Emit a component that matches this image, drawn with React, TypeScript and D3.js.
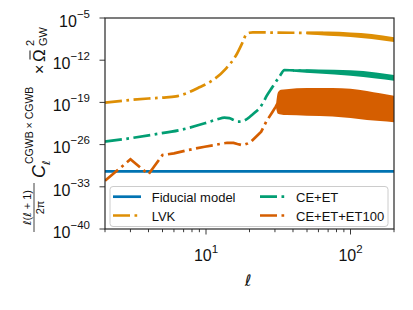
import React from "react";
import * as d3 from "d3";

const W = 413;
const H = 310;

// axis ticks
const xMajorTicks = [10, 100];
const xMinorTicks = [2, 3, 4, 5, 6, 7, 8, 9, 20, 30, 40, 50, 60, 70, 80, 90, 200];
const yTickExps = [-40, -33, -26, -19, -12, -5];

// series: multipole ell and log10 of the spectrum
const fiducialEll = [2, 200];
const fiducialLog = [-30.45, -30.45];

const lvkEll = [2, 3, 4, 5, 6.2, 7.3, 9, 11.2, 13.8, 16.2, 18, 19, 20, 21.1, 30, 60, 100, 140, 200];
const lvkLog = [-19.05, -18.6, -18.35, -18.2, -18.0, -17.5, -16.5, -15.28, -13.35, -11.14, -8.93, -7.7, -7.45, -7.38, -7.42, -7.5, -7.75, -8.05, -8.6];
const lvkBandEll = [50, 70, 100, 140, 200];
const lvkBandHi = [-7.3, -7.25, -7.41, -7.65, -8.2];
const lvkBandLo = [-7.7, -7.95, -8.15, -8.48, -8.98];

const ceEll = [2, 2.75, 4.4, 6.6, 9.8, 12, 13.4, 14.5, 15.5, 16.6, 18, 19.5, 21, 22.2, 23.4, 25.4, 26.1, 28.9, 32.2, 34.9, 40, 60, 100, 140, 200];
const ceLog = [-25.5, -25.07, -24.3, -23.58, -22.47, -21.8, -21.53, -21.6, -21.9, -22.2, -22.1, -21.64, -21.0, -20.5, -19.98, -18.6, -18.05, -16.4, -14.74, -13.63, -13.7, -13.85, -14.1, -14.45, -14.9];
const ceBandEll = [40, 60, 100, 150, 200];
const ceBandHi = [-13.5, -13.55, -13.68, -14.04, -14.46];
const ceBandLo = [-13.9, -14.2, -14.58, -15.04, -15.4];

const ctEll = [2, 3, 4, 5, 6, 7.5, 9.8, 11.5, 12.8, 14, 15.5, 16.5, 17.5, 18.5, 19.5, 20.5, 22.2, 24.1, 26.1, 28.9, 30.4, 31.5];
const ctLog = [-32.0, -28.44, -30.93, -27.73, -27.45, -26.9, -26.35, -26.07, -25.85, -25.7, -25.72, -25.9, -26.05, -26.0, -25.8, -25.5, -24.69, -23.86, -22.2, -20.54, -19.7, -19.0];
const ctBandEll = [30.4, 31.5, 33, 36, 50, 75, 100, 130, 160, 200];
const ctBandHi = [-19.7, -17.3, -16.9, -16.8, -16.6, -16.6, -16.75, -17.1, -17.5, -17.9];
const ctBandLo = [-19.7, -20.9, -21.0, -21.1, -21.2, -21.35, -21.6, -21.9, -22.1, -22.3];

const legendLabels = ["Fiducial model", "LVK", "CE+ET", "CE+ET+ET100"];

const C_BLUE = "#0173b2";
const C_ORANGE = "#de8f05";
const C_GREEN = "#029e73";
const C_RED = "#d55e00";

const FONT = "'Liberation Sans', Arial, Helvetica, sans-serif";
const MATH = "'DejaVu Sans', sans-serif";
const LW = 2.7;
const DASH = "17,4.5,2.7,4.5";

const left = 105, right = 394, top = 18, bottom = 229;
const x = d3.scaleLog().domain([2, 200]).range([left, right]);
const y = d3.scaleLog().domain([1e-40, 1e-5]).range([bottom, top]);

const zip = (a: number[], b: number[]) => a.map((v, i) => [v, b[i]] as [number, number]);
const lineGen = (curve: d3.CurveFactory) =>
  d3.line<[number, number]>().x((d) => x(d[0])).y((d) => y(Math.pow(10, d[1]))).curve(curve);
const areaGen = d3
  .area<[number, number, number]>()
  .x((d) => x(d[0]))
  .y0((d) => y(Math.pow(10, d[2])))
  .y1((d) => y(Math.pow(10, d[1])))
  .curve(d3.curveMonotoneX);
const zip3 = (a: number[], b: number[], c: number[]) =>
  a.map((v, i) => [v, b[i], c[i]] as [number, number, number]);

export default function App() {
  const smooth = lineGen(d3.curveMonotoneX);
  const linear = lineGen(d3.curveLinear);
  const legendColors = [C_BLUE, C_ORANGE, C_GREEN, C_RED];
  const legendPos = [
    { hx: 113, tx: 151.7, y: 196.7 },
    { hx: 113, tx: 151.7, y: 215.5 },
    { hx: 260, tx: 296, y: 196.7 },
    { hx: 260, tx: 296, y: 215.5 },
  ];
  return (
    <svg
      width={W}
      height={H}
      viewBox={`0 0 ${W} ${H}`}
      style={{ position: "absolute", left: 0, top: 0, background: "#fff" }}
    >
      <defs>
        <clipPath id="plotclip">
          <rect x={left} y={top} width={right - left} height={bottom - top} />
        </clipPath>
      </defs>
      <rect x={0} y={0} width={W} height={H} fill="#fff" />
      <g clipPath="url(#plotclip)" fill="none" strokeLinecap="butt">
        <path d={linear(zip(fiducialEll, fiducialLog)) || ""} stroke={C_BLUE} strokeWidth={LW} />
        <path d={smooth(zip(lvkEll, lvkLog)) || ""} stroke={C_ORANGE} strokeWidth={LW} strokeDasharray={DASH} />
        <path d={areaGen(zip3(lvkBandEll, lvkBandHi, lvkBandLo)) || ""} fill={C_ORANGE} stroke="none" />
        <path d={smooth(zip(ceEll, ceLog)) || ""} stroke={C_GREEN} strokeWidth={LW} strokeDasharray={DASH} />
        <path d={areaGen(zip3(ceBandEll, ceBandHi, ceBandLo)) || ""} fill={C_GREEN} stroke="none" />
        <path d={linear(zip(ctEll, ctLog)) || ""} stroke={C_RED} strokeWidth={LW} strokeDasharray={DASH} />
        <path d={areaGen(zip3(ctBandEll, ctBandHi, ctBandLo)) || ""} fill={C_RED} stroke="none" />
      </g>

      {/* x ticks */}
      <g stroke="#222" strokeWidth={0.9}>
        {xMajorTicks.map((t) => (
          <line key={"M" + t} x1={x(t)} x2={x(t)} y1={bottom} y2={bottom + 5.5} />
        ))}
        {xMinorTicks.map((t) => (
          <line key={"m" + t} x1={x(t)} x2={x(t)} y1={bottom} y2={bottom + 3.2} />
        ))}
        {yTickExps.map((e) => (
          <line key={"y" + e} x1={left - 5.5} x2={left} y1={y(Math.pow(10, e))} y2={y(Math.pow(10, e))} />
        ))}
      </g>
      <g fontFamily={FONT} fill="#111">
        {xMajorTicks.map((t) => (
          <text key={"xl" + t} x={x(t)} y={261.3} fontSize={16} textAnchor="middle">
            10
            <tspan dy={-8.5} fontSize={11.5}>
              {Math.round(Math.log10(t))}
            </tspan>
          </text>
        ))}
        {yTickExps.map((e) => (
          <text key={"yl" + e} x={90} y={y(Math.pow(10, e)) + 8.7} fontSize={16} textAnchor="end">
            10
            <tspan dy={-9} fontSize={11.5}>
              {"\u2212" + Math.abs(e)}
            </tspan>
          </text>
        ))}
      </g>

      {/* spines */}
      <rect x={left} y={top} width={right - left} height={bottom - top} fill="none" stroke="#262626" strokeWidth={1.2} />

      {/* x label */}
      <text x={248} y={286} fontSize={16} fontFamily={MATH} fontStyle="italic" textAnchor="middle" fill="#111">
        ℓ
      </text>

      {/* y label */}
      <g transform="translate(45,235) rotate(-90)" fill="#111" fontFamily={FONT}>
        <text x={27.5} y={-14} fontSize={11} textAnchor="middle">
          <tspan fontFamily={MATH} fontStyle="italic">ℓ</tspan>(<tspan fontFamily={MATH} fontStyle="italic">ℓ</tspan> + 1)
        </text>
        <line x1={3} x2={52} y1={-11} y2={-11} stroke="#111" strokeWidth={0.8} />
        <text x={27.5} y={-1.5} fontSize={11} textAnchor="middle">
          2π
        </text>
        <text x={57} y={0} fontSize={18} fontStyle="italic">
          C
        </text>
        <text x={71} y={-12} fontSize={10.5}>
          CGWB × CGWB
        </text>
        <text x={70} y={5} fontSize={11} fontFamily={MATH} fontStyle="italic">
          ℓ
        </text>
        <text x={161} y={0} fontSize={16}>
          ×
        </text>
        <text x={173} y={0} fontSize={17}>
          Ω
        </text>
        <line x1={175.5} x2={184.5} y1={-15} y2={-15} stroke="#111" strokeWidth={1} />
        <text x={189} y={-11} fontSize={11}>
          2
        </text>
        <text x={189} y={1.5} fontSize={11}>
          GW
        </text>
      </g>

      {/* legend */}
      <rect x={110} y={186.5} width={278} height={40} rx={3} fill="#fff" fillOpacity={0.8} stroke="#cccccc" strokeWidth={1} />
      {legendLabels.map((lab, i) => (
        <g key={lab}>
          <line
            x1={legendPos[i].hx}
            x2={legendPos[i].hx + 28}
            y1={legendPos[i].y}
            y2={legendPos[i].y}
            stroke={legendColors[i]}
            strokeWidth={LW}
            strokeDasharray={i === 0 ? undefined : DASH}
          />
          <text x={legendPos[i].tx} y={legendPos[i].y + 5} fontSize={13} fontFamily={FONT} fill="#111">
            {lab}
          </text>
        </g>
      ))}
    </svg>
  );
}
